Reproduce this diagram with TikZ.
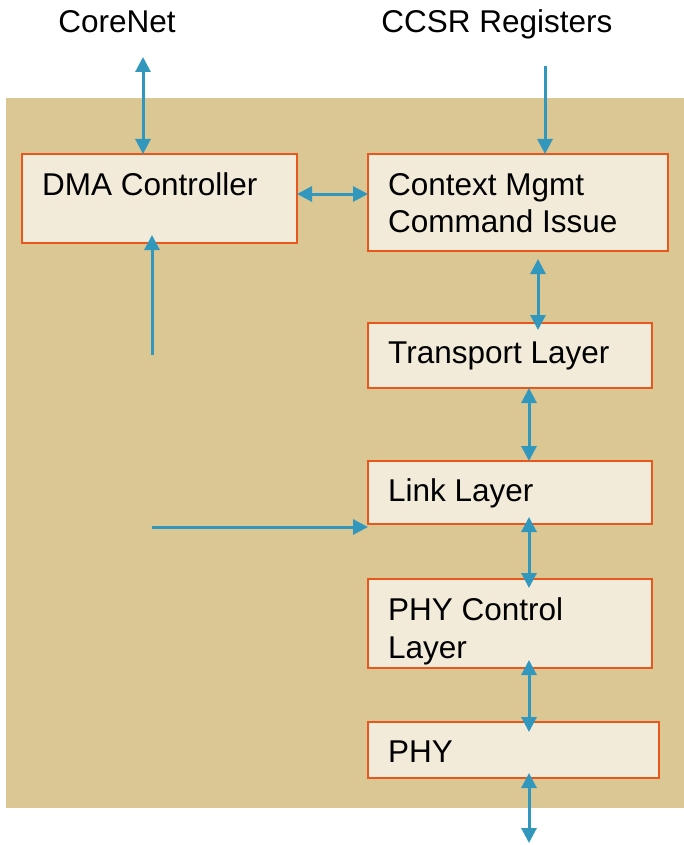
\documentclass[tikz,border=0pt]{standalone}
\usepackage{fontspec}
\setmainfont{Liberation Sans}
\usetikzlibrary{arrows.meta}
\definecolor{tanbg}{RGB}{219,199,148}
\definecolor{boxfill}{RGB}{243,235,218}
\definecolor{boxline}{RGB}{232,88,30}
\definecolor{arrowblue}{RGB}{49,151,189}
\tikzset{
  blk/.style={draw=boxline, line width=2.5pt, fill=boxfill, inner sep=0pt, outer sep=0pt},
  txt/.style={anchor=base west, inner sep=0pt, font=\fontsize{31.5}{37}\selectfont, align=left},
  toptxt/.style={anchor=base, inner sep=0pt, font=\fontsize{31.5}{37}\selectfont},
  conn/.style={draw=arrowblue, line width=3pt, -{Triangle[length=15pt,width=15pt]}},
  dconn/.style={draw=arrowblue, line width=3pt, {Triangle[length=15pt,width=15pt]}-{Triangle[length=15pt,width=15pt]}}
}
\begin{document}
\begin{tikzpicture}[x=1pt,y=-1pt]
\useasboundingbox (0,0) rectangle (684,845);
\fill[tanbg] (6,98) rectangle (684,808);

% boxes
\node[blk, minimum width=275pt, minimum height=89pt] (dma) at (159.5,198.5) {};
\node[blk, minimum width=300pt, minimum height=97pt] (ctx) at (518,202.5) {};
\node[blk, minimum width=284pt, minimum height=65pt] (trans) at (510,355.5) {};
\node[blk, minimum width=284pt, minimum height=63pt] (link) at (510,492.5) {};
\node[blk, minimum width=284pt, minimum height=89pt] (phyc) at (510,623.5) {};
\node[blk, minimum width=291pt, minimum height=56pt] (phy) at (513.5,750) {};

% texts
\node[txt] (tdma) at (42,195) {DMA Controller};
\node[txt] (tctx) at (388,195) {Context Mgmt};
\node[txt] (tctx2) at (388,232) {Command Issue};
\node[txt] (ttrans) at (388,363) {Transport Layer};
\node[txt] (tlink) at (388,501) {Link Layer};
\node[txt] (tphyc) at (388,620) {PHY Control};
\node[txt] (tphyc2) at (388,658) {Layer};
\node[txt] (tphy) at (388,762) {PHY};
\node[toptxt] (corenet) at (117,33) {CoreNet};
\node[toptxt] (ccsr) at (497,33) {CCSR Registers};

% free ends
\coordinate (cnend) at (143,57);
\coordinate (ccsrend) at (545,66);
\coordinate (dmain) at (152,355);
\coordinate (lkin) at (152,527);
\coordinate (phyout) at (529,843);

% connectors
\draw[dconn] (cnend) -- (dma.north -| cnend);
\draw[conn] (ccsrend) -- (ctx.north -| ccsrend);
\draw[dconn] ([yshift=4.5pt]dma.east) -- ([yshift=4.5pt]dma.east -| ctx.west);
\draw[conn, shorten >=-8pt] (dmain) -- (dma.south -| dmain);
\draw[conn] (lkin) -- (link.west |- lkin);
\draw[dconn, shorten <=8pt, shorten >=-7pt] ([xshift=20pt]ctx.south) -- ([xshift=20pt]ctx.south |- trans.north);
\draw[dconn] ([xshift=19pt]trans.south) -- ([xshift=19pt]trans.south |- link.north);
\draw[dconn, shorten <=-7pt, shorten >=-9pt] ([xshift=19pt]link.south) -- ([xshift=19pt]link.south |- phyc.north);
\draw[dconn, shorten <=-8pt, shorten >=-10pt] ([xshift=19pt]phyc.south) -- ([xshift=19pt]phyc.south |- phy.north);
\draw[dconn, shorten <=-5pt] (phy.south -| phyout) -- (phyout);
\end{tikzpicture}
\end{document}
